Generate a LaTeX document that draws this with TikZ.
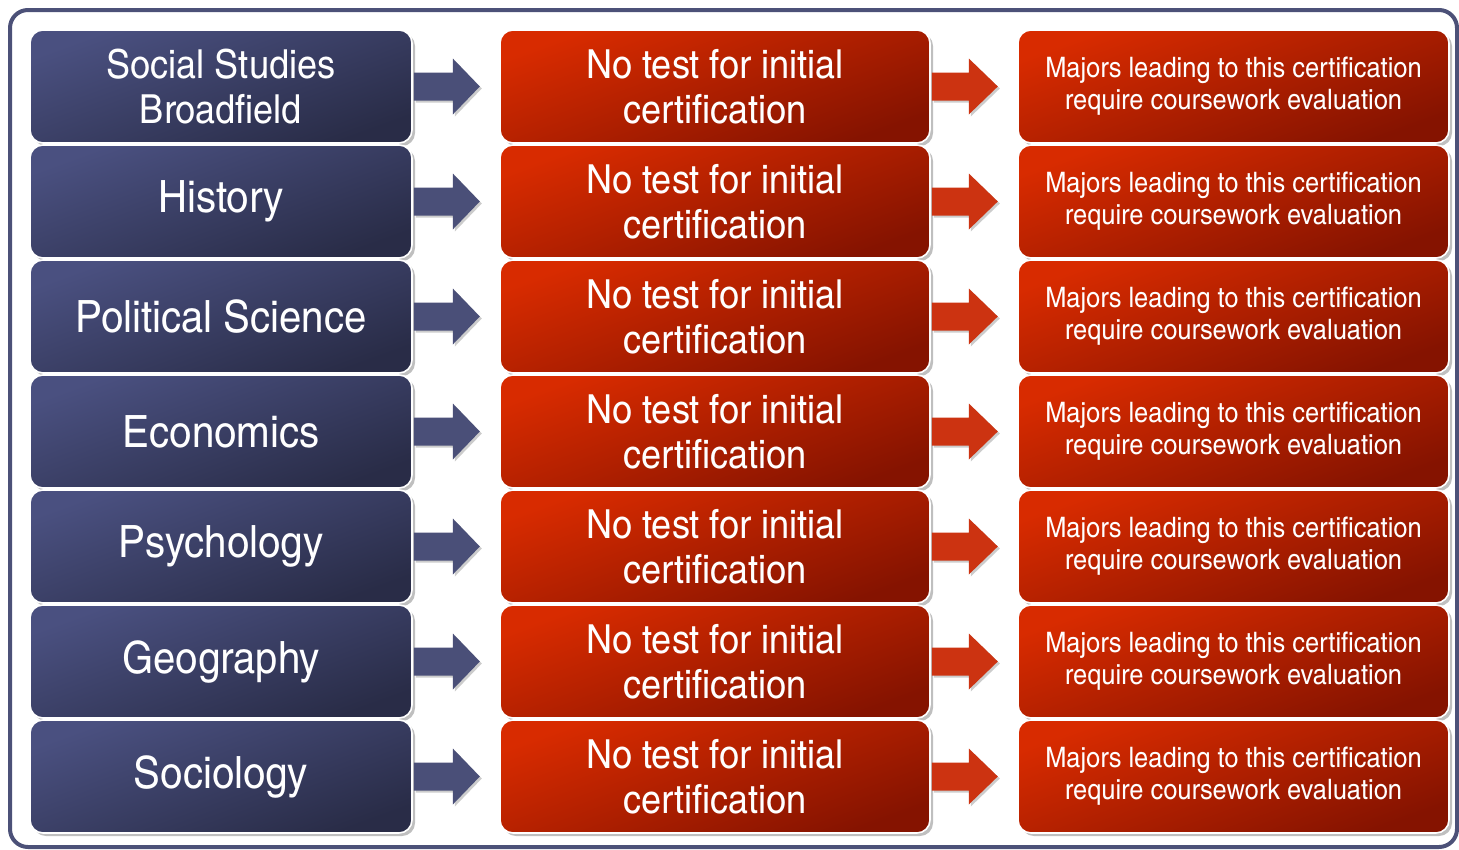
\documentclass[tikz,border=0pt]{standalone}
\usepackage{fontspec}
\setmainfont{texgyreheroscn}[Extension=.otf,UprightFont=*-regular,BoldFont=*-bold,FakeStretch=1.1]
\usetikzlibrary{shadows}
\definecolor{bluelt}{HTML}{4A5080}
\definecolor{bluedk}{HTML}{292C47}
\definecolor{redlt}{HTML}{D82B00}
\definecolor{reddk}{HTML}{851300}
\definecolor{framecol}{HTML}{4C5178}
\definecolor{arrowblue}{HTML}{4A4F78}
\definecolor{arrowred}{HTML}{CC3311}
\tikzset{
  basebox/.style={draw=white, line width=1.6pt, rounded corners=13pt, minimum height=113pt,
    text=white, align=center,
    drop shadow={shadow xshift=3pt, shadow yshift=-3pt, opacity=0.25, fill=black}},
  leftbox/.style={basebox, minimum width=382pt, top color=bluelt, bottom color=bluedk,
    shading angle=20, font=\fontsize{44.5}{45}\selectfont},
  midbox/.style={basebox, minimum width=430pt, top color=redlt, bottom color=reddk,
    shading angle=20, font=\fontsize{40}{45}\selectfont},
  rightbox/.style={basebox, minimum width=431pt, top color=redlt, bottom color=reddk,
    shading angle=20, font=\fontsize{28.2}{32}\selectfont},
  arrblue/.style={fill=arrowblue, drop shadow={shadow xshift=2pt, shadow yshift=-2pt, opacity=0.2, fill=black}},
  arrred/.style={fill=arrowred, drop shadow={shadow xshift=2pt, shadow yshift=-2pt, opacity=0.2, fill=black}}
}
\begin{document}
\begin{tikzpicture}[x=1pt,y=-1pt]
\useasboundingbox (0,0) rectangle (1459,849);
\fill[white] (0,0) rectangle (1459,849);
\draw[framecol, line width=4pt, rounded corners=18pt] (10,10) rectangle (1457,847);
\foreach \i/\lt in {1/{\fontsize{40}{45}\selectfont Social Studies\\\fontsize{40}{45}\selectfont Broadfield},2/History,3/Political Science,4/Economics,5/Psychology,6/Geography,7/Sociology}{
  \pgfmathsetmacro{\cy}{86.5+115*(\i-1)}
  \node[leftbox] (L\i) at (221,\cy) {\lt};
  \node[midbox] (M\i) at (715,\cy) {No test for initial\\certification};
  \node[rightbox] (R\i) at (1233.5,\cy) {Majors leading to this certification\\require coursework evaluation};
  \path[arrblue] (L\i.east) ++(1,-14) -- ++(39,0) -- ++(0,-14) -- ++(27,28) -- ++(-27,28) -- ++(0,-14) -- ++(-39,0) -- cycle;
  \path[arrred] (M\i.east) ++(1,-14) -- ++(37,0) -- ++(0,-14) -- ++(29,28) -- ++(-29,28) -- ++(0,-14) -- ++(-37,0) -- cycle;
}
\end{tikzpicture}
\end{document}
